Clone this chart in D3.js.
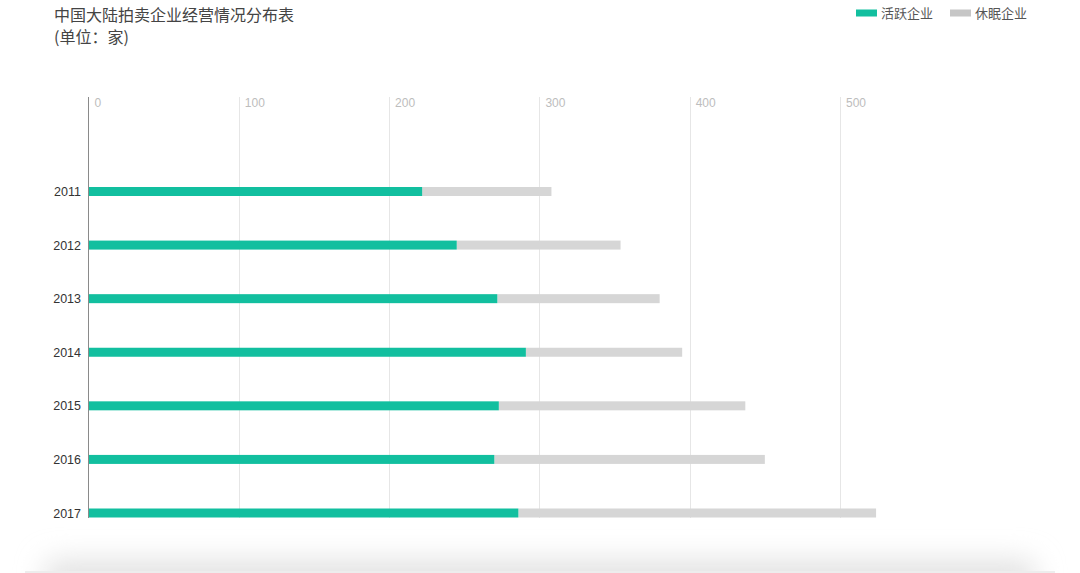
<!DOCTYPE html>
<html><head><meta charset="utf-8">
<script src="https://cdn.jsdelivr.net/npm/d3@7"></script>
<style>html,body{margin:0;padding:0;background:#fff;}svg{display:block;font-family:"Noto Sans CJK SC","Noto Sans",sans-serif;}</style>
</head><body>
<svg id="c" width="1080" height="573"></svg>
<script>
const years = ["2011","2012","2013","2014","2015","2016","2017"];
const active = [222, 245, 272, 291, 273, 270, 286];
const dormant = [86, 109, 108, 104, 164, 180, 238];
const xTicks = [0, 100, 200, 300, 400, 500];
const seriesNames = ["活跃企业", "休眠企业"];
const colors = ["#12bf9f", "#d6d6d6"];
const legendColors = ["#12bf9f", "#c6c6c6"];

const svg = d3.select("#c");
const defs = svg.append("defs");
const f = defs.append("filter").attr("id","blur").attr("x","-10%").attr("y","-100%").attr("width","120%").attr("height","300%");
f.append("feGaussianBlur").attr("stdDeviation", 14);
svg.append("rect").attr("x",45).attr("y",560).attr("width",990).attr("height",40).attr("rx",10)
  .attr("fill","#e2e2e2").attr("filter","url(#blur)");
svg.append("rect").attr("x",25).attr("y",571).attr("width",1030).attr("height",2).attr("fill","#ededed");

const x = d3.scaleLinear().domain([0, 500]).range([88.5, 840]);
const y = d3.scalePoint().domain(years).range([191.5, 513]);
const barH = 9;
const plotTop = 97, plotBottom = 518;

// gridlines
svg.append("g").selectAll("line").data(xTicks.slice(1)).join("line")
  .attr("x1", d => Math.round(x(d)) + 0.5).attr("x2", d => Math.round(x(d)) + 0.5)
  .attr("y1", plotTop).attr("y2", plotBottom).attr("stroke", "#e6e6e6").attr("stroke-width", 1);

// tick labels
svg.append("g").selectAll("text").data(xTicks).join("text")
  .attr("x", d => x(d) + 6).attr("y", 107)
  .attr("font-size", 12).attr("fill", "#bdbdbd").attr("font-family", "'Liberation Sans', Arial, sans-serif")
  .text(d => d);

// stacked bars
const rows = years.map((yr, i) => ({yr, a: active[i], d: dormant[i]}));
svg.append("g").selectAll("rect").data(rows).join("rect")
  .attr("x", d => x(d.a)).attr("y", d => y(d.yr) - barH/2)
  .attr("width", d => x(d.a + d.d) - x(d.a)).attr("height", barH).attr("fill", colors[1]);
svg.append("g").selectAll("rect").data(rows).join("rect")
  .attr("x", x(0)).attr("y", d => y(d.yr) - barH/2)
  .attr("width", d => x(d.a) - x(0)).attr("height", barH).attr("fill", colors[0]);

// y axis line
svg.append("line").attr("x1", 88.5).attr("x2", 88.5).attr("y1", plotTop).attr("y2", plotBottom)
  .attr("stroke", "#8a8a8a").attr("stroke-width", 1);

// y labels
svg.append("g").selectAll("text").data(years).join("text")
  .attr("x", 81).attr("y", d => y(d) + 4.5).attr("text-anchor", "end")
  .attr("font-size", 12.5).attr("fill", "#333").attr("font-family", "'Liberation Sans', Arial, sans-serif")
  .text(d => d);

// title
svg.append("text").attr("x", 54).attr("y", 21).attr("font-size", 16).attr("fill", "#444").text("中国大陆拍卖企业经营情况分布表");
svg.append("text").attr("x", 54).attr("y", 43).attr("font-size", 16).attr("fill", "#444").text("(单位：家)");

// legend
const leg = [{x: 856, name: seriesNames[0], c: legendColors[0]}, {x: 950, name: seriesNames[1], c: legendColors[1]}];
const lg = svg.append("g").selectAll("g").data(leg).join("g");
lg.append("rect").attr("x", d => d.x).attr("y", 9.5).attr("width", 21).attr("height", 7).attr("fill", d => d.c);
lg.append("text").attr("x", d => d.x + 25).attr("y", 18).attr("font-size", 13).attr("fill", "#555").text(d => d.name);
</script>
</body></html>
